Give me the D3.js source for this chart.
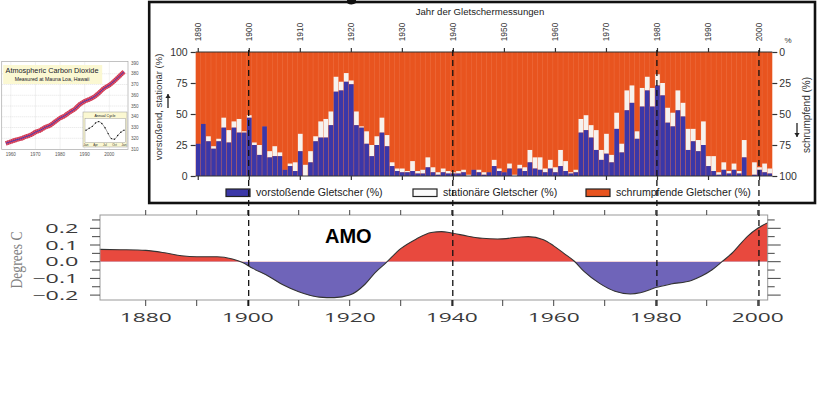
<!DOCTYPE html>
<html><head><meta charset="utf-8">
<script src="https://cdn.jsdelivr.net/npm/d3@7/dist/d3.min.js"></script>
<style>html,body{margin:0;padding:0;background:#fff;} svg{display:block;}</style>
</head><body>
<svg id="chart" width="821" height="398"></svg>
<script>
// ================= DATA =================
// Glacier measurements (percent of glaciers), one value per year from 1890
const glacierYears = d3.range(1890, 2003);
const advancingPct = [
 26,42,28,22,28,39,27,39,35,35,
 47,25,17,40,15,16,16,5,8,4,
 20,0,11,28,31,31,41,68,69,76,
 74,41,39,26,16,25,35,24,8,4,
 3,3,4,2,2,7,3,1,3,2,
 2,2,3,0,5,3,1,3,8,4,
 3,6,0,6,4,11,6,5,3,6,
 3,8,4,2,3,35,37,31,21,13,
 18,11,38,19,53,59,30,56,69,56,
 73,65,43,40,53,48,21,28,20,25,
 8,4,1,5,2,5,2,15,0,1,
 5,3,2];
const stationaryPct = [
 0,0,4,2,2,8,10,5,11,1,
 2,2,8,0,5,8,3,0,2,7,
 14,9,9,4,13,15,11,12,7,7,
 3,11,1,10,9,7,12,9,3,2,
 3,1,8,2,3,8,4,2,3,2,
 1,2,2,1,0,2,2,0,5,2,
 0,4,1,3,3,10,9,10,3,7,
 4,13,8,1,2,11,12,10,16,8,
 16,6,13,7,16,14,6,15,11,15,
 9,10,12,11,16,11,17,10,9,19,
 8,12,2,6,2,5,2,14,0,10,
 2,7,4];
const glacierTickYears = [1890,1900,1910,1920,1930,1940,1950,1960,1970,1980,1990,2000];
const leftPctTicks = [0,25,50,75,100];
const markerYears = [1900,1940,1980,2000];
const legendLabels = ["vorstoßende Gletscher (%)","stationäre Gletscher (%)","schrumpfende Gletscher (%)"];

// AMO index (degrees C)
const amoYears = [1871,1875,1880,1884,1887,1890,1894,1897,1899,1901,
 1904,1907,1910,1914,1917,1920,1923,1925,1927,1930,
 1933,1936,1938,1940,1943,1946,1949,1953,1955,1958,
 1960,1962,1964,1966,1969,1972,1975,1977,1980,1983,
 1987,1989,1991,1993,1995,1998,2000,2002];
const amoValues = [0.074,0.072,0.068,0.052,0.036,0.030,0.030,0.016,-0.005,-0.040,
 -0.085,-0.140,-0.180,-0.212,-0.215,-0.200,-0.135,-0.065,-0.010,0.078,
 0.135,0.175,0.180,0.172,0.154,0.140,0.136,0.146,0.150,0.132,
 0.095,0.050,0.004,-0.060,-0.130,-0.177,-0.193,-0.186,-0.155,-0.134,
 -0.112,-0.086,-0.050,0.000,0.052,0.152,0.200,0.234];
const amoTickYears = [1880,1890,1900,1910,1920,1930,1940,1950,1960,1970,1980,1990,2000];
const amoLabelYears = [1880,1900,1920,1940,1960,1980,2000];
const amoMajorTicks = [-0.2,-0.1,0,0.1,0.2];
const amoMinorTicks = [-0.15,-0.05,0.05,0.15,0.25];
const amoTickLabels = ["−0.2","−0.1","0.0","0.1","0.2"];

// CO2 at Mauna Loa (ppm)
const co2Years = [1958,1960,1962,1964,1966,1968,1970,1972,1974,1976,1978,1980,1982,1984,1986,1988,1990,1992,1994,1996,1998,2000,2002,2004,2006];
const co2Values = [315.3,316.9,318.4,319.6,321.4,323.0,325.7,327.5,330.2,332.1,335.4,338.7,341.1,344.4,347.2,351.5,354.4,356.3,358.8,362.6,366.7,369.4,373.2,377.5,381.9];
const co2YearTicks = [1960,1970,1980,1990,2000];
const co2ValueTicks = [310,320,330,340,350,360,370,380,390];
const cycleMonths = [0,1,2,3,4,5,6,7,8,9,10,11,12];
const cycleValues = [0.0,0.7,1.4,2.6,3.1,2.4,0.9,-1.2,-3.0,-3.2,-1.9,-0.7,0.0];
const cycleLabelMonths = [0,3,6,9,12];
const cycleLabels = ["Jan","Apr","Jul","Oct","Jan"];

// ================= DRAW =================
const svg = d3.select("#chart");
const SANS = "'Liberation Sans', Arial, sans-serif";
const WIDE = "'Open Sans', 'DejaVu Sans', sans-serif";

// ---------- CO2 inset ----------
{
  const g = svg.append("g");
  const x = d3.scaleLinear().domain([1960, 2000]).range([10.8, 109.3]);
  const y = d3.scaleLinear().domain([310, 390]).range([149, 63]);
  const L = 1.7, R = 128, T = 61.5, B = 149.5;
  g.append("rect").attr("x", L).attr("y", T).attr("width", R - L).attr("height", B - T)
    .attr("fill", "#fff").attr("stroke", "#a8a8a8").attr("stroke-width", 0.7);
  g.selectAll("line.vg").data(co2YearTicks).join("line")
    .attr("x1", d => x(d)).attr("x2", d => x(d)).attr("y1", T).attr("y2", B)
    .attr("stroke", "#c8c8c8").attr("stroke-width", 0.5).attr("stroke-dasharray", "1,1");
  g.selectAll("line.hg").data(co2ValueTicks.filter(v => v > 310 && v < 390)).join("line")
    .attr("x1", L).attr("x2", R).attr("y1", d => y(d)).attr("y2", d => y(d))
    .attr("stroke", "#c8c8c8").attr("stroke-width", 0.5).attr("stroke-dasharray", "1,1");
  g.selectAll("text.yl").data(co2ValueTicks).join("text")
    .attr("x", 131).attr("y", d => y(d) + 1.6).text(d => d)
    .attr("font-family", SANS).attr("font-size", 4.6).attr("fill", "#555");
  g.selectAll("text.xl").data(co2YearTicks).join("text")
    .attr("x", d => x(d)).attr("y", 156).attr("text-anchor", "middle").text(d => d)
    .attr("font-family", SANS).attr("font-size", 4.6).attr("fill", "#555");
  const line = d3.line().x((d, i) => x(co2Years[i])).y(d => y(d)).curve(d3.curveMonotoneX);
  g.append("path").attr("d", line(co2Values)).attr("fill", "none")
    .attr("stroke", "#d8344e").attr("stroke-width", 4.5).attr("stroke-opacity", 0.85);
  g.append("path").attr("d", line(co2Values)).attr("fill", "none")
    .attr("stroke", "#b21a3a").attr("stroke-width", 4.5).attr("stroke-dasharray", "0.6,1.4").attr("stroke-opacity", 0.7);
  g.append("path").attr("d", line(co2Values)).attr("fill", "none")
    .attr("stroke", "#2a36c8").attr("stroke-width", 0.8);
  // title box
  g.append("rect").attr("x", 3.2).attr("y", 65).attr("width", 99).attr("height", 19)
    .attr("fill", "#fbf8d2");
  g.append("text").attr("x", 52).attr("y", 73.3).attr("text-anchor", "middle")
    .attr("font-family", SANS).attr("font-size", 7.3).attr("fill", "#1a1a2a").text("Atmospheric Carbon Dioxide");
  g.append("text").attr("x", 52).attr("y", 81).attr("text-anchor", "middle")
    .attr("font-family", SANS).attr("font-size", 5.2).attr("fill", "#1a1a2a").text("Measured at Mauna Loa, Hawaii");
  // annual cycle inset
  g.append("rect").attr("x", 83).attr("y", 112).attr("width", 44).attr("height", 35)
    .attr("fill", "#fbf8d2").attr("stroke", "#999").attr("stroke-width", 0.5);
  const cx = d3.scaleLinear().domain([0, 12]).range([86, 124]);
  const cy = d3.scaleLinear().domain([-3.5, 3.5]).range([140, 120.5]);
  g.append("rect").attr("x", 85).attr("y", 118.5).attr("width", 40.5).attr("height", 24)
    .attr("fill", "#fff").attr("stroke", "#888").attr("stroke-width", 0.4);
  g.append("text").attr("x", 105).attr("y", 117).attr("text-anchor", "middle")
    .attr("font-family", SANS).attr("font-size", 3.6).attr("fill", "#222").text("Annual Cycle");
  const cl = d3.line().x((d, i) => cx(cycleMonths[i])).y(d => cy(d)).curve(d3.curveMonotoneX);
  g.append("path").attr("d", cl(cycleValues)).attr("fill", "none").attr("stroke", "#333").attr("stroke-width", 0.5);
  g.selectAll("circle.cd").data(cycleValues).join("circle")
    .attr("cx", (d, i) => cx(cycleMonths[i])).attr("cy", d => cy(d)).attr("r", 0.7).attr("fill", "#111");
  g.selectAll("text.cl").data(cycleLabelMonths).join("text")
    .attr("x", d => cx(d)).attr("y", 145.5).attr("text-anchor", "middle")
    .attr("font-family", SANS).attr("font-size", 3).attr("fill", "#333").text((d, i) => cycleLabels[i]);
}

// ---------- Glacier chart ----------
const gx = d3.scaleBand().domain(glacierYears).range([195.7, 772.3]).padding(0);
const gy = d3.scaleLinear().domain([0, 100]).range([176, 52]);
const bw = gx.bandwidth();
const gcx = yr => gx(yr) + bw / 2;
{
  const g = svg.append("g");
  // frame
  g.append("rect").attr("x", 149.2).attr("y", 2).attr("width", 665.8).attr("height", 201)
    .attr("fill", "#fff").attr("stroke", "#111").attr("stroke-width", 2.6);
  // cropped glyph fragment above the frame (descender of a cut-off heading)
  g.append("path").attr("d", "M347,0 L356,0 L356,3 Q352,5.5 347.5,3.5 Z").attr("fill", "#111");
  // plot background (light separators)
  g.append("rect").attr("x", gx.range()[0]).attr("y", gy(100)).attr("width", gx.range()[1] - gx.range()[0])
    .attr("height", gy(0) - gy(100)).attr("fill", "#ee7448");
  const rows = glacierYears.map((yr, i) => ({yr, a: advancingPct[i], s: stationaryPct[i]}));
  const w = bw - 0.45;
  g.selectAll("rect.or").data(rows).join("rect")
    .attr("x", d => gx(d.yr) + 0.2).attr("width", w)
    .attr("y", gy(100)).attr("height", d => gy(d.a + d.s) - gy(100)).attr("fill", "#e8541f");
  g.selectAll("rect.wh").data(rows).join("rect")
    .attr("x", d => gx(d.yr) + 0.2).attr("width", w)
    .attr("y", d => gy(d.a + d.s)).attr("height", d => gy(d.a) - gy(d.a + d.s)).attr("fill", "#f6f2ee");
  g.selectAll("rect.bl").data(rows).join("rect")
    .attr("x", d => gx(d.yr) + 0.2).attr("width", w)
    .attr("y", d => gy(d.a)).attr("height", d => gy(0) - gy(d.a)).attr("fill", "#3b37a8");
  // axis lines top & bottom
  g.append("line").attr("x1", gx.range()[0]).attr("x2", gx.range()[1]).attr("y1", gy(100)).attr("y2", gy(100))
    .attr("stroke", "#333").attr("stroke-width", 1.2);
  g.append("line").attr("x1", gx.range()[0]).attr("x2", gx.range()[1]).attr("y1", gy(0)).attr("y2", gy(0))
    .attr("stroke", "#333").attr("stroke-width", 1.2);
  // top axis
  const top = g.append("g").attr("transform", `translate(0,${gy(100)})`)
    .call(d3.axisTop(gx).tickValues(glacierTickYears).tickSize(4).tickSizeOuter(0));
  top.select(".domain").remove();
  top.selectAll("line").attr("stroke", "#333").attr("stroke-width", 1.2);
  top.selectAll("text").attr("transform", "rotate(-90)").attr("x", 20).attr("y", 0).attr("dy", "0.35em")
    .attr("text-anchor", "middle").attr("font-family", SANS).attr("font-size", 8.4).attr("fill", "#333");
  // bottom ticks
  const bot = g.append("g").attr("transform", `translate(0,${gy(0)})`)
    .call(d3.axisBottom(gx).tickValues(glacierTickYears).tickSize(4).tickFormat(""));
  bot.select(".domain").remove();
  bot.selectAll("line").attr("stroke", "#333").attr("stroke-width", 1.2);
  // left axis
  const la = g.append("g").attr("transform", `translate(${gx.range()[0]},0)`)
    .call(d3.axisLeft(gy).tickValues(leftPctTicks).tickSize(5).tickPadding(3));
  la.select(".domain").remove();
  la.selectAll("line").attr("stroke", "#333").attr("stroke-width", 1.2);
  la.selectAll("text").attr("font-family", SANS).attr("font-size", 10.5).attr("fill", "#333");
  // right axis (shrinking = 100 - value)
  const ra = g.append("g").attr("transform", `translate(${gx.range()[1]},0)`)
    .call(d3.axisRight(gy).tickValues(leftPctTicks).tickSize(5).tickPadding(2).tickFormat(d => 100 - d));
  ra.select(".domain").remove();
  ra.selectAll("line").attr("stroke", "#333").attr("stroke-width", 1.2);
  ra.selectAll("text").attr("font-family", SANS).attr("font-size", 10.5).attr("fill", "#333");
  g.append("text").attr("x", 788).attr("y", 43).attr("text-anchor", "middle")
    .attr("font-family", SANS).attr("font-size", 8).attr("fill", "#333").text("%");
  // title
  g.append("text").attr("x", 480).attr("y", 15).attr("text-anchor", "middle")
    .attr("font-family", SANS).attr("font-size", 9.6).attr("fill", "#222").text("Jahr der Gletschermessungen");
  // left title
  g.append("text").attr("transform", "translate(162,107) rotate(-90)").attr("text-anchor", "middle")
    .attr("font-family", SANS).attr("font-size", 9.5).attr("fill", "#333").text("vorstoßend, stationär (%)");
  // right title
  g.append("text").attr("transform", "translate(810,115) rotate(-90)").attr("text-anchor", "middle")
    .attr("font-family", SANS).attr("font-size", 10).attr("fill", "#333").text("schrumpfend (%)");
  // arrows
  const arrow = (x, y1, y2) => {
    g.append("line").attr("x1", x).attr("x2", x).attr("y1", y1).attr("y2", y2)
      .attr("stroke", "#222").attr("stroke-width", 1.3);
    const dir = y2 < y1 ? -1 : 1;
    g.append("path").attr("d", `M${x - 2.6},${y2 - dir * 4}L${x},${y2}L${x + 2.6},${y2 - dir * 4}Z`).attr("fill", "#222");
  };
  arrow(168, 108, 94);
  arrow(797, 123, 137);
  // legend
  const legendSw = [{x: 226, c: "#3b37a8"}, {x: 413, c: "#fbfbfb"}, {x: 586, c: "#e8541f"}];
  const lg = g.selectAll("g.lg").data(legendLabels).join("g");
  lg.append("rect").attr("x", (d, i) => legendSw[i].x).attr("y", 189).attr("width", 24).attr("height", 7.5)
    .attr("fill", (d, i) => legendSw[i].c).attr("stroke", "#222").attr("stroke-width", 1.2);
  lg.append("text").attr("x", (d, i) => legendSw[i].x + 30).attr("y", 196.3)
    .attr("font-family", SANS).attr("font-size", 10.6).attr("fill", "#222").text(d => d);
}

// ---------- AMO chart ----------
{
  const g = svg.append("g");
  const L = 100, R = 767.7, T = 215, B = 300;
  const ax = d3.scaleLinear().domain([1880, 2000]).range([145.7, 757.7]);
  const ay = d3.scaleLinear().domain([0, 0.1]).range([261.7, 245]);
  const defs = svg.append("defs");
  defs.append("clipPath").attr("id", "cpos").append("rect")
    .attr("x", L).attr("y", T).attr("width", R - L).attr("height", ay(0) - T);
  defs.append("clipPath").attr("id", "cneg").append("rect")
    .attr("x", L).attr("y", ay(0)).attr("width", R - L).attr("height", B - ay(0));
  const pts = amoYears.map((yr, i) => [yr, amoValues[i]]);
  const area = d3.area().x(d => ax(d[0])).y0(ay(0)).y1(d => ay(d[1])).curve(d3.curveMonotoneX);
  const line = d3.line().x(d => ax(d[0])).y(d => ay(d[1])).curve(d3.curveMonotoneX);
  g.append("path").attr("d", area(pts)).attr("fill", "#e8493e").attr("clip-path", "url(#cpos)");
  g.append("path").attr("d", area(pts)).attr("fill", "#6f64b9").attr("clip-path", "url(#cneg)");
  g.append("path").attr("d", line(pts)).attr("fill", "none").attr("stroke", "#333").attr("stroke-width", 1.1);
  g.append("rect").attr("x", L).attr("y", T).attr("width", R - L).attr("height", B - T)
    .attr("fill", "none").attr("stroke", "#999").attr("stroke-width", 1);
  // x ticks
  g.selectAll("line.tb").data(amoTickYears).join("line")
    .attr("x1", d => ax(d)).attr("x2", d => ax(d)).attr("y1", B).attr("y2", B + 6)
    .attr("stroke", "#444").attr("stroke-width", 1);
  g.selectAll("line.tt").data(amoTickYears).join("line")
    .attr("x1", d => ax(d)).attr("x2", d => ax(d)).attr("y1", T).attr("y2", T - 5)
    .attr("stroke", "#444").attr("stroke-width", 1);
  g.selectAll("text.xl").data(amoLabelYears).join("text")
    .attr("x", d => ax(d) - 26).attr("y", 322).text(d => d)
    .attr("textLength", 52).attr("lengthAdjust", "spacingAndGlyphs")
    .attr("font-family", WIDE).attr("font-size", 13).attr("fill", "#3a3a3a");
  // y ticks
  g.selectAll("line.lmj").data(amoMajorTicks).join("line")
    .attr("x1", L - 10).attr("x2", L).attr("y1", d => ay(d)).attr("y2", d => ay(d)).attr("stroke", "#444");
  g.selectAll("line.lmn").data(amoMinorTicks).join("line")
    .attr("x1", L - 8).attr("x2", L).attr("y1", d => ay(d)).attr("y2", d => ay(d)).attr("stroke", "#444");
  g.selectAll("line.rmj").data(amoMajorTicks).join("line")
    .attr("x1", R).attr("x2", R + 13).attr("y1", d => ay(d)).attr("y2", d => ay(d)).attr("stroke", "#444");
  g.selectAll("line.rmn").data(amoMinorTicks).join("line")
    .attr("x1", R).attr("x2", R + 7).attr("y1", d => ay(d)).attr("y2", d => ay(d)).attr("stroke", "#444");
  g.selectAll("text.yl").data(amoMajorTicks).join("text")
    .attr("x", (d, i) => 78.3 - (d < 0 ? 46 : 33)).attr("y", d => ay(d) + 4.7)
    .text((d, i) => amoTickLabels[i])
    .attr("textLength", d => d < 0 ? 46 : 33).attr("lengthAdjust", "spacingAndGlyphs")
    .attr("font-family", WIDE).attr("font-size", 13).attr("fill", "#3a3a3a");
  g.append("text").attr("transform", "translate(22,260) rotate(-90)").attr("text-anchor", "middle")
    .attr("textLength", 57).attr("lengthAdjust", "spacingAndGlyphs")
    .attr("font-family", "'Liberation Serif', 'Times New Roman', serif").attr("font-size", 16)
    .attr("fill", "#808080").text("Degrees C");
  g.append("text").attr("x", 325).attr("y", 243.3)
    .attr("font-family", SANS).attr("font-weight", "bold").attr("font-size", 20).attr("fill", "#000").text("AMO");
}

// ---------- dashed marker lines ----------
svg.selectAll("line.marker").data(markerYears).join("line")
  .attr("x1", d => gcx(d) - 0.6).attr("x2", d => gcx(d) - 0.6).attr("y1", 50).attr("y2", 307)
  .attr("stroke", "#111").attr("stroke-width", 1.3).attr("stroke-dasharray", "6,4");
</script>
</body></html>
